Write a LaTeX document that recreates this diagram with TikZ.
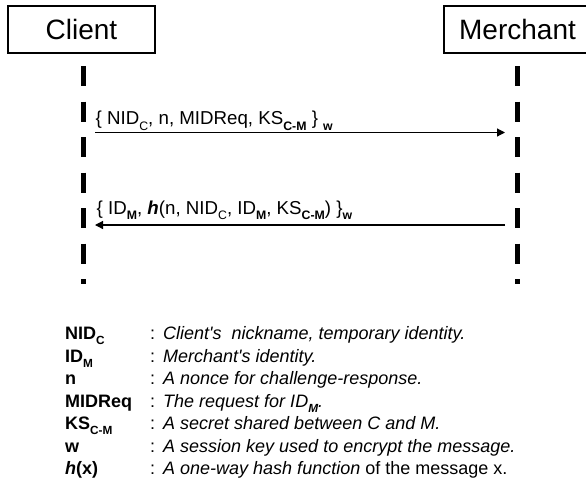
\documentclass[tikz,border=0pt]{standalone}
\usepackage{fontspec}
\setmainfont{Liberation Sans}
\usetikzlibrary{arrows.meta}

% lowered, smaller text for subscripts; size taken from \subfs
\newcommand{\subfs}{11.8}
\newcommand{\lo}[1]{\raisebox{-0.3em}{\fontsize{\subfs}{12}\selectfont #1}}

\begin{document}
\begin{tikzpicture}[x=1pt,y=-1pt,
  actor/.style={draw, line width=1.4pt, minimum width=147pt, minimum height=47pt,
                inner sep=0pt, font=\fontsize{28}{30}\selectfont},
  lifeline/.style={line width=5pt, dash pattern=on 20pt off 15.5pt},
  msg/.style={line width=1.2pt, -{Triangle[length=8pt,width=8pt]}},
  lbl/.style={anchor=base west, inner sep=0pt,
              font={\fontsize{18.7}{21}\selectfont\renewcommand{\subfs}{12.3}}},
  keyterm/.style={anchor=base west, inner sep=0pt, font=\fontsize{18}{20}\selectfont\bfseries},
  sep/.style={anchor=base west, inner sep=0pt, font=\fontsize{18}{20}\selectfont},
  desc/.style={anchor=base west, inner sep=0pt, font=\fontsize{18}{20}\selectfont\itshape}]

\fill[white] (0,0) rectangle (586,480);
\clip (0,0) rectangle (586,480);

% actors
\node[actor] (client)   at (81.5,29.5) {Client};
\node[actor] (merchant) at (517.5,29.5) {Merchant};

% lifelines
\coordinate (cltop) at (83.5,66);
\coordinate (clbot) at (83.5,284);
\coordinate (mctop) at (517,66);
\coordinate (mcbot) at (517,284);
\draw[lifeline] (cltop) -- (clbot);
\draw[lifeline] (mctop) -- (mcbot);

% messages
\coordinate (c1) at (83.5,132.5);
\coordinate (m1) at (517,132.5);
\coordinate (c2) at (83.5,225);
\coordinate (m2) at (517,225);
\draw[msg, shorten <=11.5pt, shorten >=12pt] (c1) -- (m1);
\draw[msg, shorten <=12pt, shorten >=11.5pt] (m2) -- (c2);

\node[lbl] (l1) at (95.5,124.5)
  {\{ NID\lo{C}, n, MIDReq, KS\lo{\bfseries C-M} \} \lo{\bfseries w}};
\node[lbl] (l2) at (96.5,214)
  {\{ ID\lo{\bfseries M}, \textbf{\textit{h}}(n, NID\lo{C}, ID\lo{\bfseries M}, KS\lo{\bfseries C-M}) \}\lo{\bfseries w}};

% legend
\foreach \i/\k/\d in {
  0/{NID\lo{C}}/{Client\textquotesingle s\ \ nickname, temporary identity.},
  1/{ID\lo{M}}/{Merchant\textquotesingle s identity.},
  2/{n}/{A nonce for challenge-response.},
  3/{MIDReq}/{The request for ID\lo{\bfseries M}.},
  4/{KS\lo{C-M}}/{A secret shared between C and M.},
  5/{w}/{A session key used to encrypt the message.},
  6/{\textit{h}(x)}/{A one-way hash function {\upshape of the message x.}}}
{
  \node[keyterm] (k\i) at (65,339.5+22.5*\i) {\k};
  \node[sep]     (s\i) at (150,339.5+22.5*\i) {:};
  \node[desc]    (d\i) at (163,339.5+22.5*\i) {\d};
}
\end{tikzpicture}
\end{document}
